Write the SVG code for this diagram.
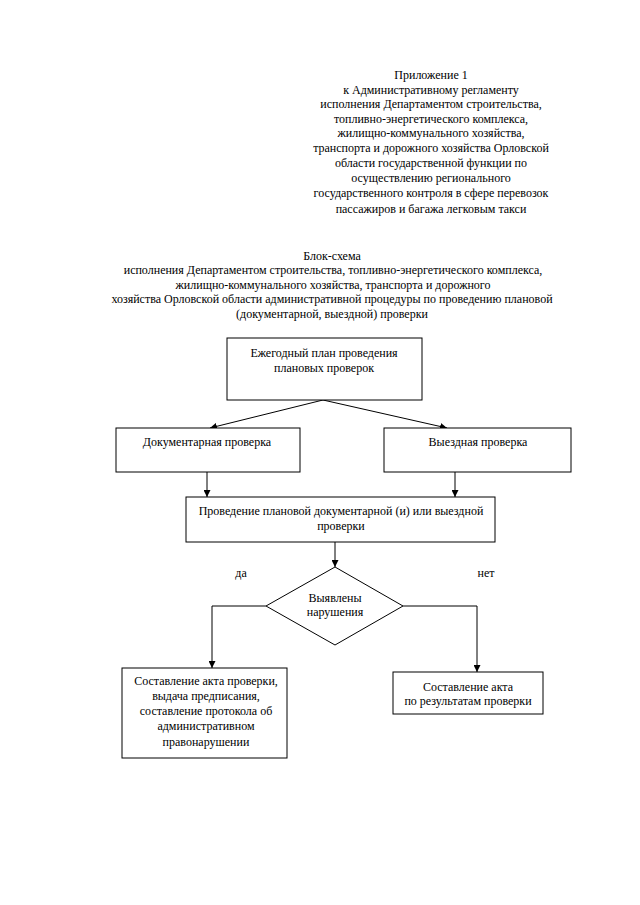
<svg xmlns="http://www.w3.org/2000/svg" width="640" height="905" viewBox="0 0 640 905">
<style>
text{font-family:"Liberation Serif","Times New Roman","DejaVu Serif",serif;font-size:12px;fill:#000;text-anchor:middle}
.b{fill:#fff;stroke:#000;stroke-width:1}
.c{fill:none;stroke:#000;stroke-width:1}
</style>
<defs>
<marker id="a" viewBox="0 0 10 10" refX="10" refY="5" markerWidth="7" markerHeight="7" orient="auto" markerUnits="userSpaceOnUse">
<path d="M0,0L10,5L0,10z" fill="#000"/>
</marker>
</defs>
<rect width="640" height="905" fill="#fff"/>
<g id="header">
<text x="431" y="79">Приложение 1</text>
<text x="431" y="94">к Административному регламенту</text>
<text x="431" y="108">исполнения Департаментом строительства,</text>
<text x="431" y="123">топливно-энергетического комплекса,</text>
<text x="431" y="137">жилищно-коммунального хозяйства,</text>
<text x="431" y="152">транспорта и дорожного хозяйства Орловской</text>
<text x="431" y="167">области государственной функции по</text>
<text x="431" y="182">осуществлению регионального</text>
<text x="431" y="197">государственного контроля в сфере перевозок</text>
<text x="431" y="213">пассажиров и багажа легковым такси</text>
</g>
<g id="title">
<text x="332" y="260">Блок-схема</text>
<text x="333" y="274">исполнения Департаментом строительства, топливно-энергетического комплекса,</text>
<text x="333" y="289">жилищно-коммунального хозяйства, транспорта и дорожного</text>
<text x="332" y="303">хозяйства Орловской области административной процедуры по проведению плановой</text>
<text x="332" y="318">(документарной, выездной) проверки</text>
</g>
<g id="connectors">
<line class="c" x1="323" y1="400" x2="210" y2="428" marker-end="url(#a)"/>
<line class="c" x1="323" y1="400" x2="447" y2="428" marker-end="url(#a)"/>
<line class="c" x1="207" y1="472" x2="207" y2="497" marker-end="url(#a)"/>
<line class="c" x1="455" y1="472" x2="455" y2="497" marker-end="url(#a)"/>
<line class="c" x1="335" y1="542" x2="335" y2="567" marker-end="url(#a)"/>
<polyline class="c" points="266,606 212,606 212,668" marker-end="url(#a)"/>
<polyline class="c" points="403,606 477,606 477,672" marker-end="url(#a)"/>
<text x="241" y="577">да</text>
<text x="486" y="577">нет</text>
</g>
<g id="n1">
<rect class="b" x="227" y="338" width="195" height="62"/>
<text x="324" y="357">Ежегодный план проведения</text>
<text x="324" y="372">плановых проверок</text>
</g>
<g id="n2">
<rect class="b" x="116" y="428" width="184" height="44"/>
<text x="207" y="446">Документарная проверка</text>
</g>
<g id="n3">
<rect class="b" x="384" y="428" width="187" height="44"/>
<text x="478" y="446">Выездная проверка</text>
</g>
<g id="n4">
<rect class="b" x="186" y="497" width="309" height="45"/>
<text x="341" y="515">Проведение плановой документарной (и) или выездной</text>
<text x="341" y="530">проверки</text>
</g>
<g id="n5">
<polygon class="b" points="335,567 403,606 335,645 266,606"/>
<text x="335" y="602">Выявлены</text>
<text x="335" y="616">нарушения</text>
</g>
<g id="n6">
<rect class="b" x="122" y="668" width="165" height="90"/>
<text x="206" y="685">Составление акта проверки,</text>
<text x="206" y="700">выдача предписания,</text>
<text x="206" y="715">составление протокола об</text>
<text x="206" y="730">административном</text>
<text x="206" y="746">правонарушении</text>
</g>
<g id="n7">
<rect class="b" x="393" y="672" width="150" height="42"/>
<text x="468" y="691">Составление акта</text>
<text x="468" y="705">по результатам проверки</text>
</g>
</svg>
